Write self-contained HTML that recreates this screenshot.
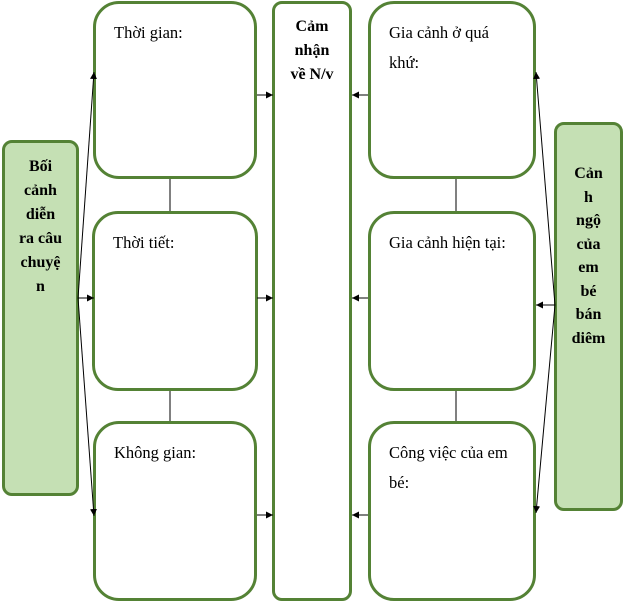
<!DOCTYPE html>
<html><head><meta charset="utf-8"><style>
body{margin:0;width:624px;height:603px;background:#fff;position:relative;font-family:"Liberation Serif",serif;overflow:hidden}
.b{position:absolute;box-sizing:border-box;border:3px solid #548235;background:#fff;border-radius:26px;font-size:16px;color:#000}
.g{background:#c5e0b4;border-radius:10px;font-weight:bold;text-align:center;line-height:24px}
.t{position:absolute;left:18px;top:14px;line-height:30px;font-size:16.5px}
svg{position:absolute;left:0;top:0}
</style></head><body>
<div class="b g" style="left:2px;top:140px;width:77px;height:356px;padding-top:12px">Bối<br>cảnh<br>diễn<br>ra câu<br>chuyệ<br>n</div>
<div class="b" style="left:93px;top:1px;width:164px;height:178px"><div class="t">Thời gian:</div></div>
<div class="b" style="left:92px;top:211px;width:166px;height:180px"><div class="t">Thời tiết:</div></div>
<div class="b" style="left:93px;top:421px;width:164px;height:180px"><div class="t">Không gian:</div></div>
<div class="b g" style="left:272px;top:1px;width:80px;height:600px;padding-top:11px;border-radius:10px;background:#fff">Cảm<br>nhận<br>về N/v</div>
<div class="b" style="left:368px;top:1px;width:168px;height:178px"><div class="t">Gia cảnh ở quá<br>khứ:</div></div>
<div class="b" style="left:368px;top:211px;width:168px;height:180px"><div class="t">Gia cảnh hiện tại:</div></div>
<div class="b" style="left:368px;top:421px;width:168px;height:180px"><div class="t">Công việc của em<br>bé:</div></div>
<div class="b g" style="left:554px;top:122px;width:69px;height:389px;padding-top:37px;line-height:23.5px">Cản<br>h<br>ngộ<br>của<br>em<br>bé<br>bán<br>diêm</div>
<svg width="624" height="603">
<defs><marker id="a" viewBox="0 0 10 10" refX="10" refY="5" markerWidth="7" markerHeight="7" orient="auto"><path d="M0,0L10,5L0,10z" fill="#000"/></marker></defs>
<g stroke="#000" stroke-width="1" fill="none">
<line x1="78" y1="298" x2="94" y2="72" marker-end="url(#a)"/>
<line x1="78" y1="298" x2="94" y2="298" marker-end="url(#a)"/>
<line x1="78" y1="298" x2="94" y2="516" marker-end="url(#a)"/>
<line x1="257" y1="95" x2="273" y2="95" marker-end="url(#a)"/>
<line x1="257" y1="298" x2="273" y2="298" marker-end="url(#a)"/>
<line x1="257" y1="515" x2="273" y2="515" marker-end="url(#a)"/>
<line x1="368" y1="95" x2="352" y2="95" marker-end="url(#a)"/>
<line x1="368" y1="298" x2="352" y2="298" marker-end="url(#a)"/>
<line x1="368" y1="515" x2="352" y2="515" marker-end="url(#a)"/>
<line x1="555" y1="305" x2="536" y2="72" marker-end="url(#a)"/>
<line x1="555" y1="305" x2="536" y2="305" marker-end="url(#a)"/>
<line x1="555" y1="305" x2="536" y2="513" marker-end="url(#a)"/>
<line x1="170" y1="179" x2="170" y2="211"/>
<line x1="170" y1="391" x2="170" y2="421"/>
<line x1="456" y1="179" x2="456" y2="211"/>
<line x1="456" y1="391" x2="456" y2="421"/>
</g></svg>
</body></html>
